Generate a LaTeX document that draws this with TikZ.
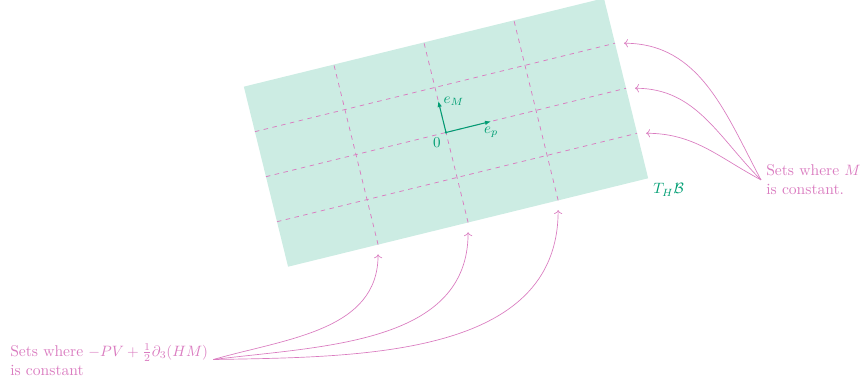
\documentclass[tikz,border=0pt]{standalone}
\usepackage{amsmath,amssymb}
\usetikzlibrary{arrows.meta}
\definecolor{oigreen}{RGB}{0,158,115}
\definecolor{oipink}{RGB}{218,124,192}
\tikzset{
  planefill/.style={fill=oigreen!20, draw=none},
  gridline/.style={oipink, dashed, line width=0.5pt},
  vecarrow/.style={oigreen, line width=0.7pt, -{Latex[length=4pt,width=3pt]}},
  labelarrow/.style={oipink, line width=0.45pt, ->},
  pinktext/.style={text=oipink, align=left},
  every node/.style={font=\fontsize{10.4pt}{12.6pt}\selectfont},
}
\begin{document}
\begin{tikzpicture}[x=61.8pt, y=61.8pt]
\useasboundingbox (-4.811,-2.702) rectangle (4.498,1.429);
\begin{scope}[rotate=13.8]
  \fill[planefill] (-2,-1) rectangle (2,1);
  \foreach \yy in {-0.5,0,0.5} \draw[gridline] (-2,\yy) -- (2,\yy);
  \foreach \xx in {-1,0,1} \draw[gridline] (\xx,-1) -- (\xx,1);
  \coordinate (mR1) at (2,0.5);
  \coordinate (mR2) at (2,0);
  \coordinate (mR3) at (2,-0.5);
  \coordinate (pB1) at (-1,-1);
  \coordinate (pB2) at (0,-1);
  \coordinate (pB3) at (1,-1);
  \coordinate (corner) at (2,-1);
  \coordinate (o) at (0,0);
  \coordinate (ep) at (0.5,0);
  \coordinate (eM) at (0,0.35);
  \draw[vecarrow] (o) -- (ep);
  \draw[vecarrow] (o) -- (eM);
  \fill[oigreen] (o) circle (0.9pt);
  \node[text=oigreen, below] (eplab) at (ep) {$e_p$};
  \node[text=oigreen, right] (eMlab) at (eM) {$e_M$};
  \node[text=oigreen, below left] (olab) at (o) {$0$};
  \node[text=oigreen, anchor=north west] (TB) at (corner) {$T_H\mathcal{B}$};
\end{scope}
\node[pinktext, anchor=west] (Mtext) at (3.398,-0.512) {Sets where $M$\\is constant.};
\node[pinktext, anchor=west] (Ptext) at (-4.757,-2.449) {Sets where $-PV+\frac{1}{2}\partial_3(HM)$\\is constant};
\draw[labelarrow] (Mtext.west) to[out=118,in=0] ([xshift=6pt]mR1);
\draw[labelarrow] (Mtext.west) to[out=135,in=0] ([xshift=6pt]mR2);
\draw[labelarrow] (Mtext.west) to[out=152,in=0] ([xshift=6pt]mR3);
\draw[labelarrow] (Ptext.east) to[out=16,in=-90] ([yshift=-6.5pt]pB1);
\draw[labelarrow] (Ptext.east) to[out=7,in=-90] ([yshift=-6.5pt]pB2);
\draw[labelarrow] (Ptext.east) to[out=1,in=-90] ([yshift=-6.5pt]pB3);
\end{tikzpicture}
\end{document}
